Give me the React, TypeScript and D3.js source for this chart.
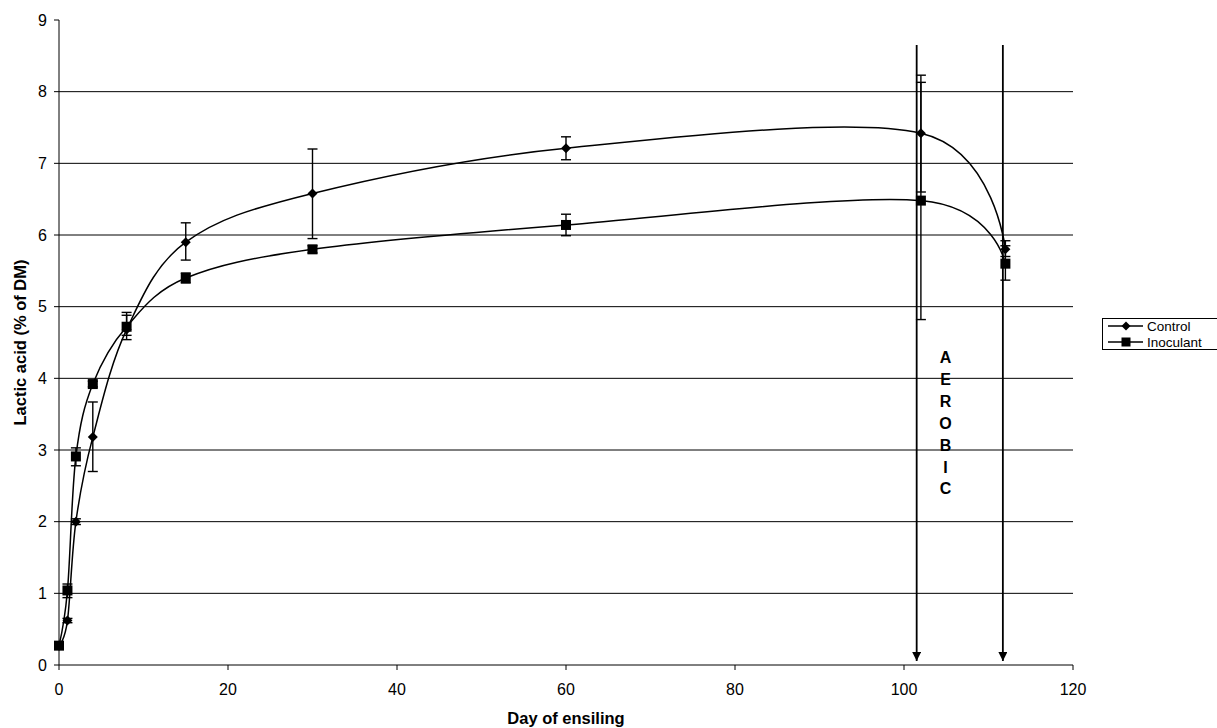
import React from "react";
import * as d3 from "d3";

const days = [0, 1, 2, 4, 8, 15, 30, 60, 102, 112];
const controlMean = [0.27, 0.62, 2.0, 3.18, 4.68, 5.9, 6.58, 7.21, 7.42, 5.8];
const controlLow = [0.25, 0.59, 1.96, 2.7, 4.54, 5.65, 5.95, 7.05, 6.6, 5.7];
const controlHigh = [0.29, 0.65, 2.04, 3.67, 4.88, 6.17, 7.2, 7.37, 8.23, 5.92];
const inocMean = [0.27, 1.04, 2.91, 3.92, 4.72, 5.4, 5.8, 6.14, 6.48, 5.6];
const inocLow = [0.25, 0.94, 2.78, 3.88, 4.6, 5.33, 5.75, 5.99, 4.82, 5.37];
const inocHigh = [0.29, 1.13, 3.03, 3.96, 4.92, 5.47, 5.85, 6.29, 8.13, 5.85];
const aerobicDays = [101.5, 111.7];
const aerobicLetters = ["A", "E", "R", "O", "B", "I", "C"];
const xTicks = [0, 20, 40, 60, 80, 100, 120];
const yTicks = [0, 1, 2, 3, 4, 5, 6, 7, 8, 9];

const FONT = "'Liberation Sans', Arial, sans-serif";

export default function App() {
  const x = d3.scaleLinear().domain([0, 120]).range([59, 1073]);
  const y = d3.scaleLinear().domain([0, 9]).range([665, 20]);
  const line = d3
    .line<[number, number]>()
    .x((d) => x(d[0]))
    .y((d) => y(d[1]))
    .curve(d3.curveCardinal.tension(0));

  const cPts = days.map((d, i) => [d, controlMean[i]] as [number, number]);
  const iPts = days.map((d, i) => [d, inocMean[i]] as [number, number]);

  const diamond = (cx: number, cy: number, r: number) =>
    `M${cx},${cy - r}L${cx + r},${cy}L${cx},${cy + r}L${cx - r},${cy}Z`;

  const errBars = (lo: number[], hi: number[], key: string) =>
    days.map((d, i) => {
      const cx = x(d);
      return (
        <g key={key + i} stroke="#000" strokeWidth={1.4}>
          <line x1={cx} x2={cx} y1={y(lo[i])} y2={y(hi[i])} />
          <line x1={cx - 5} x2={cx + 5} y1={y(lo[i])} y2={y(lo[i])} />
          <line x1={cx - 5} x2={cx + 5} y1={y(hi[i])} y2={y(hi[i])} />
        </g>
      );
    });

  return (
    <svg
      width={1217}
      height={728}
      style={{ position: "absolute", left: 0, top: 0, background: "#fff" }}
      fontFamily={FONT}
    >
      {/* gridlines */}
      {yTicks
        .filter((t) => t > 0 && t < 9)
        .map((t) => (
          <line key={"g" + t} x1={x(0)} x2={x(120)} y1={y(t)} y2={y(t)} stroke="#000" strokeWidth={1} />
        ))}
      {/* axes */}
      <line x1={x(0)} x2={x(0)} y1={y(9)} y2={y(0)} stroke="#000" strokeWidth={1} />
      <line x1={x(0)} x2={x(120)} y1={y(0)} y2={y(0)} stroke="#000" strokeWidth={1} />
      {yTicks.map((t) => (
        <g key={"yt" + t}>
          <line x1={x(0) - 5} x2={x(0)} y1={y(t)} y2={y(t)} stroke="#000" />
          <text x={x(0) - 12} y={y(t)} dy="0.36em" textAnchor="end" fontSize={16}>
            {t}
          </text>
        </g>
      ))}
      {xTicks.map((t) => (
        <g key={"xt" + t}>
          <line x1={x(t)} x2={x(t)} y1={y(0)} y2={y(0) + 5} stroke="#000" />
          <text x={x(t)} y={695} textAnchor="middle" fontSize={16}>
            {t}
          </text>
        </g>
      ))}
      <text x={566} y={724} textAnchor="middle" fontSize={16.5} fontWeight="bold">
        Day of ensiling
      </text>
      <text
        transform={`translate(26,${y(4.5)}) rotate(-90)`}
        textAnchor="middle"
        fontSize={16.5}
        fontWeight="bold"
      >
        Lactic acid (% of DM)
      </text>

      {/* aerobic arrows */}
      <defs>
        <marker id="arr" viewBox="0 0 10 10" refX={10} refY={5} markerWidth={10} markerHeight={9} orient="auto" markerUnits="userSpaceOnUse">
          <path d="M0,0L10,5L0,10Z" fill="#000" />
        </marker>
      </defs>
      {aerobicDays.map((d, i) => (
        <line
          key={"ar" + i}
          x1={x(d)}
          x2={x(d)}
          y1={45}
          y2={661}
          stroke="#000"
          strokeWidth={1.8}
          markerEnd="url(#arr)"
        />
      ))}
      {aerobicLetters.map((l, i) => (
        <text key={"ae" + i} x={945.5} y={363 + i * 21.9} textAnchor="middle" fontSize={16} fontWeight="bold">
          {l}
        </text>
      ))}

      {/* error bars */}
      {errBars(controlLow, controlHigh, "ce")}
      {errBars(inocLow, inocHigh, "ie")}

      {/* lines */}
      <path d={line(cPts) || ""} fill="none" stroke="#000" strokeWidth={1.5} />
      <path d={line(iPts) || ""} fill="none" stroke="#000" strokeWidth={1.5} />

      {/* markers */}
      {cPts.map((p, i) => (
        <path key={"cm" + i} d={diamond(x(p[0]), y(p[1]), 5)} fill="#000" />
      ))}
      {iPts.map((p, i) => (
        <rect key={"im" + i} x={x(p[0]) - 5} y={y(p[1]) - 5} width={10} height={10} fill="#000" />
      ))}

      {/* legend */}
      <rect x={1102.5} y={318.5} width={116} height={31} fill="#fff" stroke="#000" strokeWidth={1} />
      <line x1={1108} x2={1143} y1={326} y2={326} stroke="#000" strokeWidth={1.5} />
      <path d={diamond(1126, 326, 4.5)} fill="#000" />
      <text x={1147} y={326} dy="0.36em" fontSize={13.5}>
        Control
      </text>
      <line x1={1108} x2={1143} y1={342} y2={342} stroke="#000" strokeWidth={1.5} />
      <rect x={1121.5} y={337.5} width={9} height={9} fill="#000" />
      <text x={1147} y={342} dy="0.36em" fontSize={13.5}>
        Inoculant
      </text>
    </svg>
  );
}
